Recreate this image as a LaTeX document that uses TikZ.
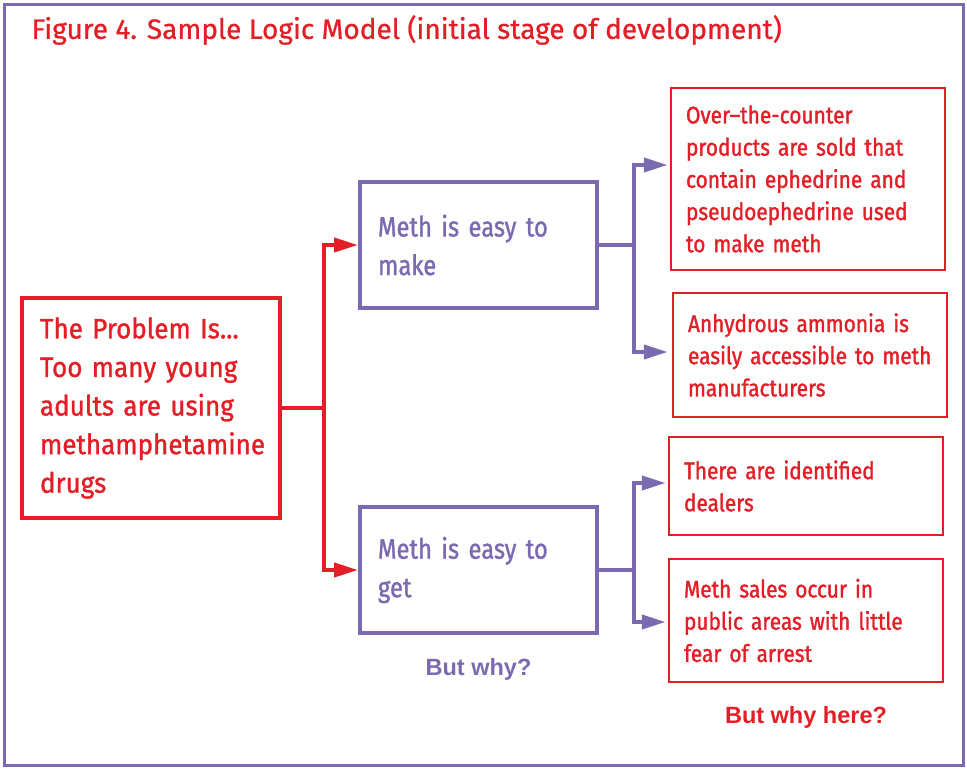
\documentclass[tikz,border=0pt]{standalone}
\usepackage{fontspec}
\setmainfont{Fira Sans}
\newfontfamily\problemfont[FakeStretch=0.93,FakeBold=1.2]{Fira Sans}
\newfontfamily\causefont[FakeStretch=0.85,FakeBold=1.2]{Fira Sans}
\newfontfamily\reasonfont[FakeStretch=0.87,FakeBold=1.4]{Fira Sans}
\newfontfamily\titlefont[FakeStretch=1.0,FakeBold=0.8]{Fira Sans}
\newfontfamily\whyfont{Liberation Sans}
\usetikzlibrary{arrows.meta,positioning}

\definecolor{logicred}{RGB}{228,30,38}
\definecolor{logicpurple}{RGB}{123,106,176}

\tikzset{
  problembox/.style={draw=logicred, line width=4pt, text=logicred, align=left,
    minimum width=258pt, minimum height=220pt, text width=222pt, inner xsep=18pt,
    font=\problemfont\fontsize{28}{38.6}\selectfont},
  causebox/.style={draw=logicpurple, line width=4pt, text=logicpurple, align=left,
    minimum width=237pt, minimum height=126pt, text width=201pt, inner xsep=18pt,
    font=\causefont\fontsize{28}{38.5}\selectfont},
  reasonbox/.style={draw=logicred, line width=2.5pt, text=logicred, align=left,
    minimum width=274pt, text width=244pt, inner xsep=15pt,
    font=\reasonfont\fontsize{24}{32.2}\selectfont},
  redlink/.style={draw=logicred, line width=4pt, -{Triangle[length=24pt,width=14pt]}},
  purplelink/.style={draw=logicpurple, line width=4pt, shorten >=2pt, -{Triangle[length=24pt,width=14pt]}},
  whylabel/.style={font=\whyfont\bfseries\fontsize{23.5}{26}\selectfont}
}

\begin{document}
\begin{tikzpicture}[x=1pt,y=-1pt]
\useasboundingbox (0,0) rectangle (967,769);
\draw[logicpurple, line width=3pt] (4,4) rectangle (963,765);

\node[anchor=west, text=logicred, font=\titlefont\fontsize{28}{30}\selectfont] (title) at (28,30)
  {Figure 4. Sample Logic Model (initial stage of development)};

% problem and the two causes
\node[problembox] (problem) at (151,408) {The Problem Is...\\Too many young\\adults are using\\methamphetamine\\drugs};
\node[causebox] (make) at (478.5,245) {Meth is easy to\\make};
\node[causebox] (get) at (478.5,570) {Meth is easy to\\get};
\node[whylabel, text=logicpurple, below=20pt of get] (whyget) {But why?};

% reasons
\node[reasonbox, minimum height=182pt] (counter) at (808,179) {Over–the-counter\\products are sold that\\contain ephedrine and\\pseudoephedrine used\\to make meth};
\node[reasonbox, minimum height=124pt] (ammonia) at (810,355) {Anhydrous ammonia is\\easily accessible to meth\\manufacturers};
\node[reasonbox, minimum height=98pt] (dealers) at (806,486) {There are identified\\dealers};
\node[reasonbox, minimum height=123pt] (sales) at (806,620.5) {Meth sales occur in\\public areas with little\\fear of arrest};
\node[whylabel, text=logicred] (whyhere) at (806,717) {But why here?};

% connectors
\draw[redlink] (problem.east) -- ++(42,0) |- (make.west);
\draw[redlink] (problem.east) -- ++(42,0) |- (get.west);
\draw[purplelink] (make.east) -- ++(35,0) |- ([yshift=14pt]counter.west);
\draw[purplelink] (make.east) -- ++(35,0) |- ([yshift=3pt,xshift=-2pt]ammonia.west);
\draw[purplelink] (get.east) -- ++(35,0) |- ([yshift=3pt]dealers.west);
\draw[purplelink] (get.east) -- ++(35,0) |- ([yshift=-1.5pt]sales.west);
\end{tikzpicture}
\end{document}
